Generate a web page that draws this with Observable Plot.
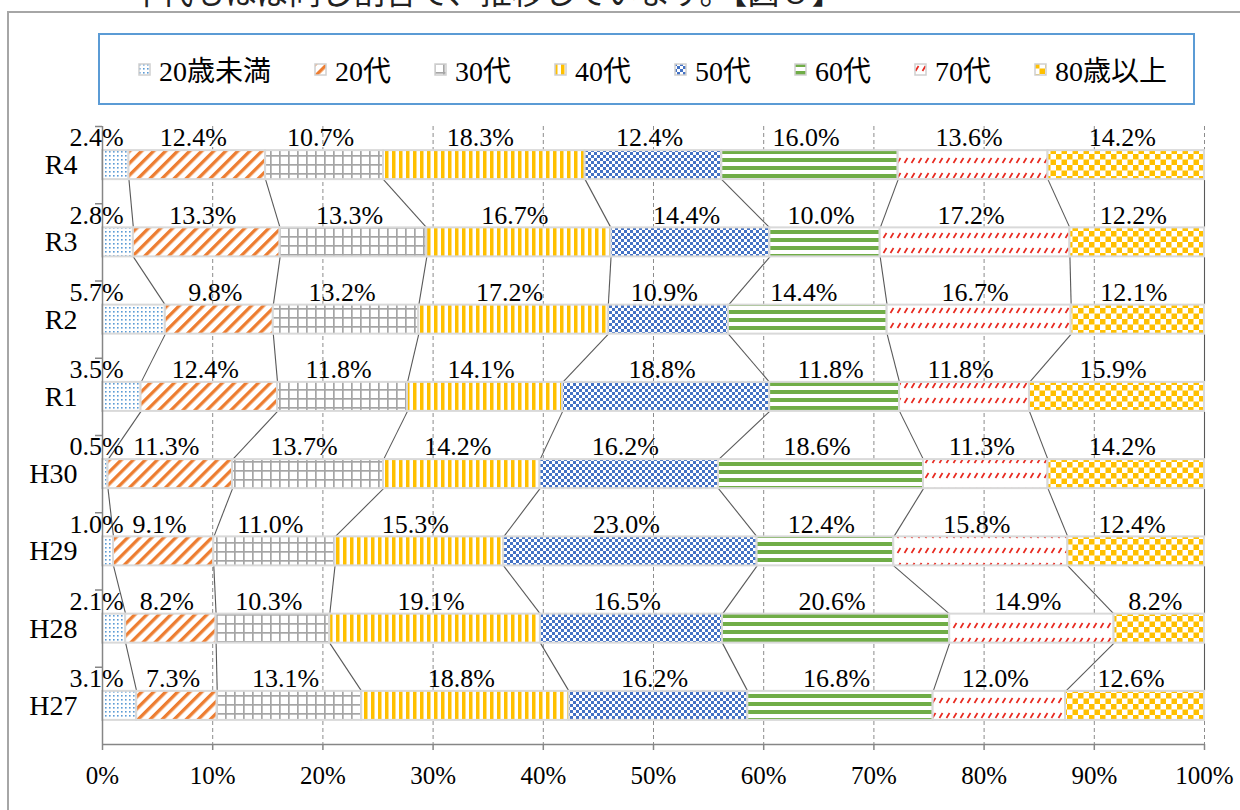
<!DOCTYPE html>
<html><head><meta charset="utf-8">
<script src="https://cdn.jsdelivr.net/npm/d3@7"></script>
<script src="https://cdn.jsdelivr.net/npm/@observablehq/plot@0.6"></script>
<style>
html,body{margin:0;padding:0;background:#fff;overflow:hidden;}
#page{position:relative;width:1240px;height:810px;overflow:hidden;font-family:"Liberation Serif","Times New Roman","DejaVu Serif","Noto Sans CJK JP",serif;color:#000;}
#top{position:absolute;left:97px;top:-26px;font-size:32px;line-height:32px;font-family:"Noto Sans CJK JP",sans-serif;white-space:nowrap;color:#222;}
#frame{position:absolute;left:7px;top:11px;width:1400px;height:1000px;border:2px solid #a6a6a6;box-sizing:border-box;}
#legend{position:absolute;left:98px;top:33px;width:1097px;height:72px;border:2px solid #5b9bd5;box-sizing:border-box;display:flex;align-items:center;padding-left:38px;gap:43px;background:#fff;}
.item{display:flex;align-items:center;font-size:28px;white-space:nowrap;}
.item svg{margin-right:8px;display:block;}
#chart{position:absolute;left:0;top:110px;}
#chart svg text{font-family:"Liberation Serif","Times New Roman","DejaVu Serif",serif;}
</style>
</head><body>
<svg width="0" height="0" style="position:absolute">
<defs>
<pattern id="pat0" width="4" height="4" patternUnits="userSpaceOnUse"><rect width="4" height="4" fill="#fff"/><rect x="1" y="1" width="1.6" height="1.6" fill="#5b9bd5"/></pattern>
<pattern id="pat1" width="8.5" height="8.5" patternUnits="userSpaceOnUse" patternTransform="rotate(45)"><rect width="8.5" height="8.5" fill="#fff"/><rect width="3.3" height="8.5" fill="#ed7d31"/></pattern>
<pattern id="pat2" width="9" height="9" patternUnits="userSpaceOnUse"><rect width="9" height="9" fill="#fff"/><rect width="9" height="1.7" fill="#a5a5a5"/><rect width="1.7" height="9" fill="#a5a5a5"/></pattern>
<pattern id="pat3" width="7" height="7" patternUnits="userSpaceOnUse"><rect width="7" height="7" fill="#fff"/><rect width="3.5" height="7" fill="#ffc000"/></pattern>
<pattern id="pat4" width="6" height="6" patternUnits="userSpaceOnUse"><rect width="6" height="6" fill="#fff"/><rect width="3" height="3" fill="#4472c4"/><rect x="3" y="3" width="3" height="3" fill="#4472c4"/></pattern>
<pattern id="pat5" width="8" height="8" patternUnits="userSpaceOnUse"><rect width="8" height="8" fill="#fff"/><rect width="8" height="4" fill="#70ad47"/></pattern>
<pattern id="pat6" width="7" height="15" patternUnits="userSpaceOnUse"><rect width="7" height="15" fill="#fff"/><path d="M1.5 8 L4.5 3" stroke="#e8281e" stroke-width="1.7"/></pattern>
<pattern id="pat7" width="11" height="11" patternUnits="userSpaceOnUse"><rect width="11" height="11" fill="#fff"/><rect width="5.5" height="5.5" fill="#ffc000"/><rect x="5.5" y="5.5" width="5.5" height="5.5" fill="#ffc000"/></pattern>
</defs></svg>
<div id="page">
  <div id="top">・年代もほぼ同じ割合で、推移しています。【図８】</div>
  <div id="frame"></div>
  <div id="legend"></div>
  <div id="chart"></div>
</div>
<script>
// ---- data ----
const years = ["R4", "R3", "R2", "R1", "H30", "H29", "H28", "H27"];
const ages = ["20歳未満", "20代", "30代", "40代", "50代", "60代", "70代", "80歳以上"];
const vR4  = [2.4, 12.4, 10.7, 18.3, 12.4, 16.0, 13.6, 14.2];
const vR3  = [2.8, 13.3, 13.3, 16.7, 14.4, 10.0, 17.2, 12.2];
const vR2  = [5.7, 9.8, 13.2, 17.2, 10.9, 14.4, 16.7, 12.1];
const vR1  = [3.5, 12.4, 11.8, 14.1, 18.8, 11.8, 11.8, 15.9];
const vH30 = [0.5, 11.3, 13.7, 14.2, 16.2, 18.6, 11.3, 14.2];
const vH29 = [1.0, 9.1, 11.0, 15.3, 23.0, 12.4, 15.8, 12.4];
const vH28 = [2.1, 8.2, 10.3, 19.1, 16.5, 20.6, 14.9, 8.2];
const vH27 = [3.1, 7.3, 13.1, 18.8, 16.2, 16.8, 12.0, 12.6];
const values = [vR4, vR3, vR2, vR1, vH30, vH29, vH28, vH27];
const xTicks = [0, 0.1, 0.2, 0.3, 0.4, 0.5, 0.6, 0.7, 0.8, 0.9, 1.0];

const FONT = "'Liberation Serif', 'Times New Roman', 'DejaVu Serif', serif";

// ---- legend ----
const legend = document.getElementById("legend");
ages.forEach((a, s) => {
  const it = document.createElement("div");
  it.className = "item";
  it.innerHTML = `<svg width="13" height="13"><rect x="1" y="1" width="11" height="11" fill="url(#pat${s})" stroke="#d0d0d0" stroke-width="1.5"/></svg><span>${a}</span>`;
  legend.appendChild(it);
});

// ---- derived segments ----
const segs = [];
values.forEach((row, i) => {
  const total = d3.sum(row);
  let cum = 0;
  row.forEach((v, s) => {
    const x1 = cum / total; cum += v;
    segs.push({i, s, v, x1, x2: cum / total, year: years[i], age: ages[s]});
  });
});
const h = 14.5 / 77.25;
const links = [];
for (let i = 0; i < years.length - 1; i++) {
  for (let s = 0; s < ages.length; s++) {
    const a = segs[i * ages.length + s], b = segs[(i + 1) * ages.length + s];
    links.push({x1: a.x2, x2: b.x2, y1: i + h, y2: i + 1 - h});
  }
}

const chart = Plot.plot({
  width: 1240,
  height: 700,
  marginTop: 16,
  marginBottom: 66,
  marginLeft: 102,
  marginRight: 36,
  style: {fontFamily: FONT, fontSize: "25px", color: "#000", background: "transparent", overflow: "visible"},
  x: {domain: [0, 1], axis: null},
  y: {domain: [-0.5, 7.5], reverse: true, axis: null},
  marks: [
    Plot.ruleX(xTicks.slice(1), {stroke: "#8c8c8c", strokeWidth: 1, strokeDasharray: "4,3"}),
    Plot.link(links, {x1: "x1", y1: "y1", x2: "x2", y2: "y2", stroke: "#595959", strokeWidth: 1.1}),
    ...ages.map((a, s) => Plot.rect(segs.filter(d => d.s === s), {
      x1: "x1", x2: "x2", y1: d => d.i - h, y2: d => d.i + h,
      fill: `url(#pat${s})`, stroke: "#d9d9d9", strokeWidth: 2
    })),
    Plot.ruleX([0], {stroke: "#868686", strokeWidth: 1.5}),
    Plot.ruleY([7.5], {stroke: "#868686", strokeWidth: 1.5}),
    Plot.axisX({ticks: xTicks, tickFormat: d3.format(".0%"), tickSize: 6, tickPadding: 16, fontSize: 25, fontFamily: FONT, stroke: "#868686", strokeWidth: 1.5}),
    Plot.axisY({ticks: d3.range(-0.5, 7, 1), tickFormat: () => "", tickSize: 7, stroke: "#868686", strokeWidth: 1.5}),
    Plot.axisY({ticks: d3.range(0, 8, 1), tickFormat: i => years[i], tickSize: 0, tickPadding: 25, fontSize: 28, fontFamily: FONT}),
    Plot.text(segs.filter(d => d.s === 0), {x: "x1", y: "i", text: d => d.v.toFixed(1) + "%", dx: -6, dy: -27, fontSize: 26, fontFamily: FONT, fill: "#000"}),
    Plot.text(segs.filter(d => d.s > 0), {x: d => (d.x1 + d.x2) / 2, y: "i", text: d => d.v.toFixed(1) + "%", dx: -4, dy: -27, fontSize: 26, fontFamily: FONT, fill: "#000"})
  ]
});
document.getElementById("chart").appendChild(chart);
</script>
</body></html>
